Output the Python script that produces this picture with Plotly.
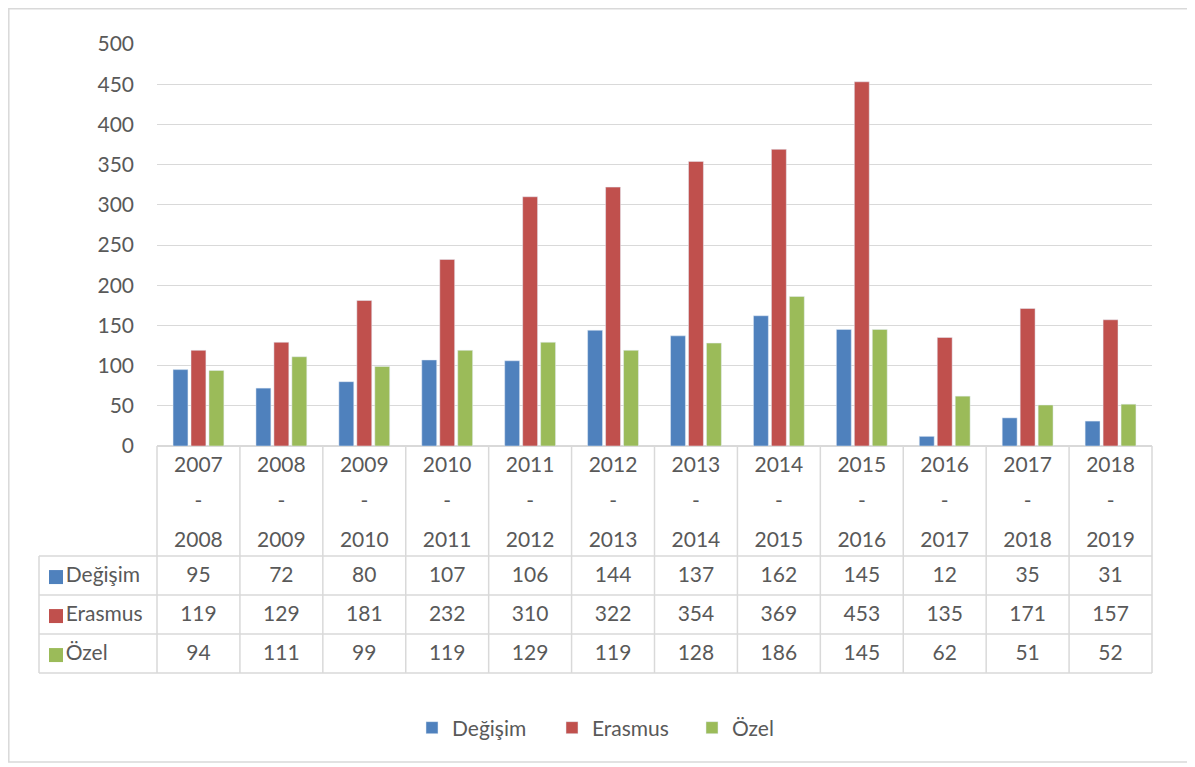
import plotly.graph_objects as go

categories = ["2007-2008", "2008-2009", "2009-2010", "2010-2011", "2011-2012", "2012-2013",
              "2013-2014", "2014-2015", "2015-2016", "2016-2017", "2017-2018", "2018-2019"]
degisim = [95, 72, 80, 107, 106, 144, 137, 162, 145, 12, 35, 31]
erasmus = [119, 129, 181, 232, 310, 322, 354, 369, 453, 135, 171, 157]
ozel = [94, 111, 99, 119, 129, 119, 128, 186, 145, 62, 51, 52]
series_names = ["Değişim", "Erasmus", "Özel"]
series_values = [degisim, erasmus, ozel]
colors = ["#4F81BD", "#C0504D", "#9BBB59"]
y_ticks = list(range(0, 501, 50))

OFF = 8  # page body margin in the browser
W, H = 1195 - OFF, 767 - OFF
FONT = "Lato"
TXT = "#595959"
GRID = "#D9D9D9"
FS = 21

# pixel layout (screen coordinates of the target picture)
PL, PR, PT, PB = 157, 1152, 44, 446
ncat = len(categories)
cw = (PR - PL) / ncat
ROW_H, HEAD_H = 39, 110
TB = PB + HEAD_H + 3 * ROW_H
LABEL_L = 39

def fx(px):
    return (px - OFF) / W

def fy(py):
    return 1 - (py - OFF) / H

def px_to_u(px):
    return -0.5 + (px - PL) / cw

def py_to_v(py):
    return (TB - py) / ROW_H

idx = list(range(ncat))
fig = go.Figure()
for name, vals, col in zip(series_names, series_values, colors):
    fig.add_trace(go.Bar(x=idx, y=vals, name=name, marker_color=col,
                         xaxis="x", yaxis="y"))

# table: header text
top_years = [c.split("-")[0] for c in categories]
bot_years = [c.split("-")[1] for c in categories]
hdr_font = dict(family=FONT, size=FS, color=TXT)
for texts, py in [(top_years, 467), (["-"] * ncat, 503), (bot_years, 542)]:
    fig.add_trace(go.Scatter(x=idx, y=[py_to_v(py)] * ncat, text=texts, mode="text",
                             textfont=hdr_font, xaxis="x2", yaxis="y2",
                             showlegend=False, hoverinfo="skip"))
# table values
for r, (name, vals, col) in enumerate(zip(series_names, series_values, colors)):
    vc = 2.5 - r - 0.04
    fig.add_trace(go.Scatter(x=idx, y=[vc] * ncat, text=[str(v) for v in vals], mode="text",
                             textfont=hdr_font, xaxis="x2", yaxis="y2",
                             showlegend=False, hoverinfo="skip"))
    fig.add_trace(go.Scatter(x=[px_to_u(56)], y=[vc], mode="markers+text", text=[name],
                             textposition="middle right",
                             marker=dict(symbol="square", size=14, color=col),
                             textfont=hdr_font, xaxis="x2", yaxis="y2",
                             showlegend=False, hoverinfo="skip"))

shapes = []
lw = 1.5
u_left = px_to_u(LABEL_L)
v_top = py_to_v(PB)
for v in [0, 1, 2, 3]:
    shapes.append(dict(type="line", xref="x2", yref="y2", x0=u_left, x1=ncat - 0.5,
                       y0=v, y1=v, line=dict(color=GRID, width=lw), layer="below"))
for k in range(ncat + 1):
    u = -0.5 + k
    shapes.append(dict(type="line", xref="x2", yref="y2", x0=u, x1=u, y0=0, y1=v_top,
                       line=dict(color=GRID, width=lw), layer="below"))
shapes.append(dict(type="line", xref="x2", yref="y2", x0=u_left, x1=u_left, y0=0, y1=3,
                   line=dict(color=GRID, width=lw), layer="below"))
# outer border
shapes.append(dict(type="rect", xref="paper", yref="paper", x0=fx(8.8), x1=fx(1190),
                   y0=fy(762), y1=fy(8.8), line=dict(color=GRID, width=1.5), layer="below"))

fig.update_layout(
    width=W, height=H,
    margin=dict(l=0, r=0, t=0, b=0, pad=0, autoexpand=False),
    paper_bgcolor="white", plot_bgcolor="rgba(0,0,0,0)",
    font=dict(family=FONT, size=FS, color=TXT),
    barmode="group", bargap=0.35, bargroupgap=0.17,
    shapes=shapes,
    showlegend=True,
    legend=dict(orientation="h", x=fx(622), xanchor="center", y=fy(728), yanchor="middle",
                font=dict(family=FONT, size=FS, color=TXT), itemwidth=30,
                entrywidth=95, entrywidthmode="pixels",
                bgcolor="rgba(0,0,0,0)"),
    xaxis=dict(domain=[fx(PL), fx(PR)], range=[-0.5, ncat - 0.5], showticklabels=False,
               showgrid=False, zeroline=False, showline=False, ticks="", anchor="y",
               fixedrange=True, automargin=False),
    yaxis=dict(domain=[fy(PB), fy(PT)], range=[0, 500], tickvals=y_ticks,
               showgrid=True, gridcolor=GRID, gridwidth=1, zeroline=True,
               zerolinecolor=GRID, zerolinewidth=1.5, showline=False, ticks="",
               ticklabelstandoff=22, tickfont=dict(family=FONT, size=FS, color=TXT),
               anchor="x", fixedrange=True, automargin=False),
    xaxis2=dict(domain=[fx(36), fx(1155)], range=[px_to_u(36), px_to_u(1155)],
                visible=False, anchor="y2", fixedrange=True, automargin=False),
    yaxis2=dict(domain=[fy(676), fy(444)], range=[py_to_v(676), py_to_v(444)],
                visible=False, anchor="x2", fixedrange=True, automargin=False),
)

fig.write_html("out.html")
